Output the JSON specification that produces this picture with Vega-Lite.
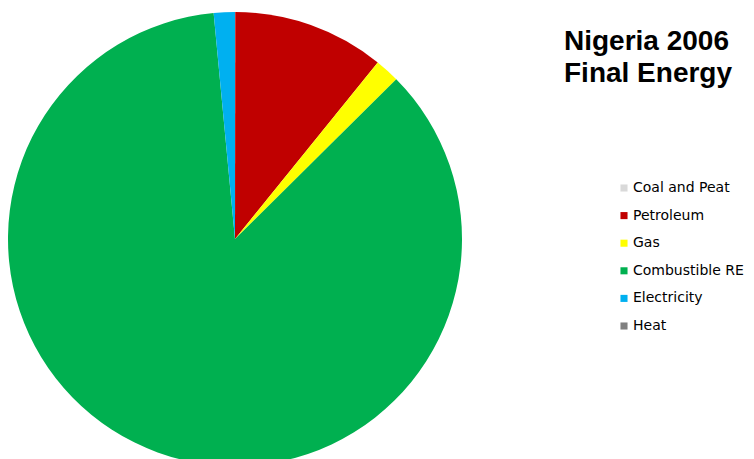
{
  "$schema": "https://vega.github.io/schema/vega-lite/v6.json",
  "width": 470,
  "height": 478,
  "padding": {"left": 0, "top": 0, "right": 284, "bottom": 0},
  "autosize": {"type": "none"},
  "background": "white",
  "title": {
    "text": ["Nigeria 2006", "Final Energy"],
    "anchor": "start",
    "frame": "group",
    "baseline": "top",
    "dx": 564,
    "dy": 88,
    "offset": 0,
    "font": "Liberation Sans",
    "fontSize": 28,
    "fontWeight": "bold",
    "lineHeight": 32,
    "color": "black",
    "align": "left"
  },
  "data": {
    "values": [
      {"source": "Coal and Peat", "value": 0.02, "k": 1},
      {"source": "Petroleum", "value": 10.8, "k": 2},
      {"source": "Gas", "value": 1.75, "k": 3},
      {"source": "Combustible RE", "value": 85.9, "k": 4},
      {"source": "Electricity", "value": 1.5, "k": 5},
      {"source": "Heat", "value": 0, "k": 6}
    ]
  },
  "mark": {"type": "arc", "outerRadius": 227},
  "encoding": {
    "theta": {"field": "value", "type": "quantitative", "stack": true},
    "order": {"field": "k", "type": "quantitative"},
    "color": {
      "field": "source",
      "type": "nominal",
      "scale": {
        "domain": ["Coal and Peat", "Petroleum", "Gas", "Combustible RE", "Electricity", "Heat"],
        "range": ["#D9D9D9", "#C00000", "#FFFF00", "#00B050", "#00B0F0", "#808080"]
      },
      "legend": {
        "title": null,
        "orient": "none",
        "legendX": 617,
        "legendY": 181,
        "symbolType": "square",
        "symbolSize": 50,
        "symbolStrokeWidth": 0,
        "labelFont": "DejaVu Sans",
        "labelFontSize": 14,
        "labelColor": "black",
        "labelOffset": 2,
        "rowPadding": 13.6
      }
    }
  }
}
